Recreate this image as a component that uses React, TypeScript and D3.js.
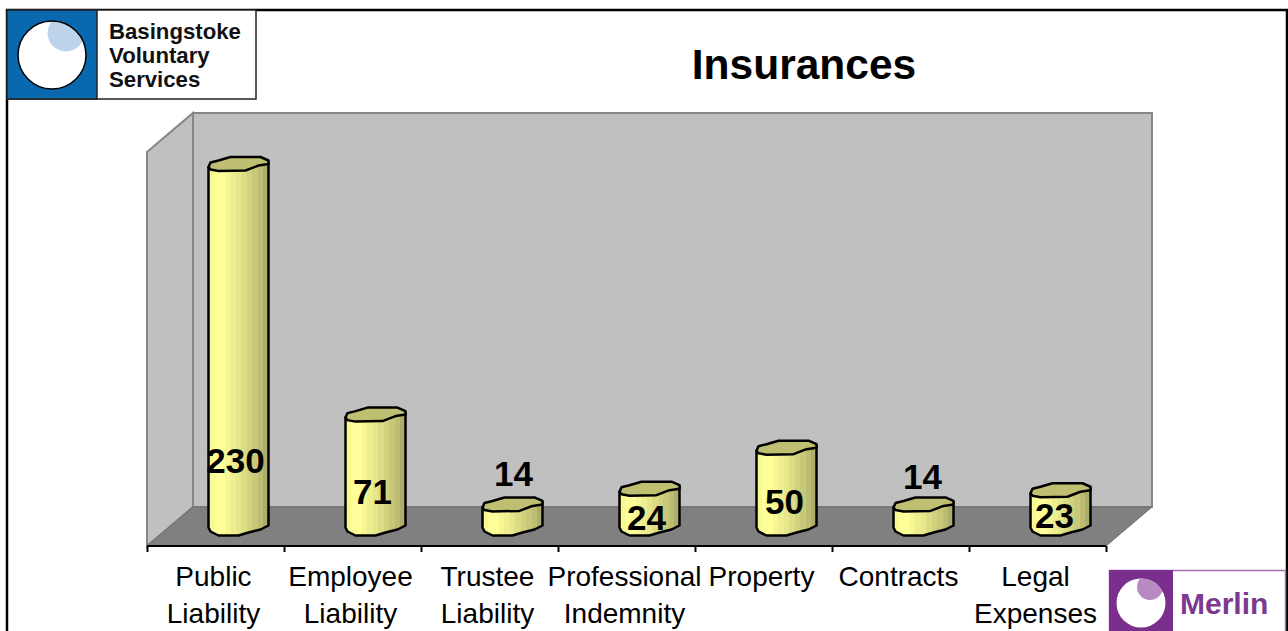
import { useEffect, useRef } from 'react'
import * as d3 from 'd3'

const categories = ['Public Liability', 'Employee Liability', 'Trustee Liability', 'Professional Indemnity', 'Property', 'Contracts', 'Legal Expenses']
const values = [230, 71, 14, 24, 50, 14, 23]
const valueLabels = ['230', '71', '14', '24', '50', '14', '23']
// label baselines, in axis units, as placed by the original chart
const labelLevels = [34, 14.5, 26, -2.5, 8, 23.5, -1]
const labelShifts = [-3, -3, 1, -3, -2, -1, -6]
const logoLines = ['Basingstoke', 'Voluntary', 'Services']

// outline of one column, relative to its centre (one cross-section, repeated)
const topOutline: [number, number][] = [[-30, 3], [-28, -1.5], [-20, -3.5], [-8, -7], [22, -7], [30, -3.5], [30, 0], [20, 1.5], [7, 6.5], [-20, 7], [-28, 5.5]]
const bottomOutline: [number, number][] = [[-30, 1], [-28, 5], [-20, 9], [0, 9], [10, 6], [22, 3], [30, -1]]
const stripColors = ['#f9f992', '#ffff99', '#ffff99', '#f6f694', '#eeee90', '#e6e68a', '#dcdc84', '#d2d27e', '#c8c878', '#bcbc72', '#aeae6a']

const FONT = '"Liberation Sans", Arial, sans-serif'
const width = 1288
const height = 631

function App() {
  const svgRef = useRef<SVGSVGElement>(null)

  useEffect(() => {
    const svg = d3.select(svgRef.current)
    svg.selectAll('*').remove()

    // Plot box
    const left = 147
    const right = 1106
    const base = 546
    const top = 152
    const depthX = 46
    const depthY = 39

    const x = d3.scaleBand<string>().domain(categories).range([left, right])
    const edges = d3.scaleLinear().domain([0, categories.length]).range([left, right])
    const y = d3.scaleLinear().domain([0, 250]).range([base - depthY / 2, top - depthY / 2])

    const defs = svg.append('defs')
    const grad = defs.append('linearGradient').attr('id', 'columnFill')
    stripColors.forEach((c, i) => {
      grad.append('stop').attr('offset', i / stripColors.length).attr('stop-color', c)
      grad.append('stop').attr('offset', (i + 1) / stripColors.length).attr('stop-color', c)
    })
    defs.append('clipPath').attr('id', 'bvsCircle').append('circle').attr('cx', 52).attr('cy', 55).attr('r', 34)
    defs.append('clipPath').attr('id', 'merlinCircle').append('circle').attr('cx', 1141).attr('cy', 603).attr('r', 24.5)

    // Frame
    svg.append('path')
      .attr('d', `M7,${height} V10 H${width - 1} V${height}`)
      .attr('fill', 'none')
      .attr('stroke', '#000')
      .attr('stroke-width', 2.5)

    // Walls and floor
    const polygon = d3.line()
    svg.append('path')
      .attr('d', polygon([[left, top], [left + depthX, top - depthY], [left + depthX, base - depthY], [left, base]]) + 'Z')
      .attr('fill', '#c0c0c0')
      .attr('stroke', '#868686')
      .attr('stroke-width', 2)
    svg.append('rect')
      .attr('x', left + depthX)
      .attr('y', top - depthY)
      .attr('width', right - left)
      .attr('height', base - top)
      .attr('fill', '#c0c0c0')
      .attr('stroke', '#868686')
      .attr('stroke-width', 2)
    svg.append('path')
      .attr('d', polygon([[left, base], [left + depthX, base - depthY], [right + depthX, base - depthY], [right, base]]) + 'Z')
      .attr('fill', '#808080')
      .attr('stroke', '#6e6e6e')
      .attr('stroke-width', 1)

    // Axis
    const axis = d3.axisBottom(edges).ticks(categories.length).tickSize(6).tickFormat(() => '')
    const axisG = svg.append('g').attr('transform', `translate(0,${base})`).call(axis)
    axisG.selectAll('line,path').attr('stroke', '#000').attr('stroke-width', 2)
    axisG.select('path').attr('d', `M${left},0H${right}`)

    // Category labels
    categories.forEach(cat => {
      const cx = x(cat)! + x.bandwidth() / 2 - 2
      cat.split(' ').forEach((word, i) => {
        svg.append('text')
          .attr('x', cx)
          .attr('y', 586 + i * 37)
          .attr('text-anchor', 'middle')
          .attr('font-family', FONT)
          .attr('font-size', 28)
          .attr('fill', '#000')
          .text(word)
      })
    })

    // Columns
    categories.forEach((cat, i) => {
      const cx = x(cat)! + x.bandwidth() / 2 + depthX / 2
      const yTop = y(values[i])
      const yBase = y(0)
      const topPts = topOutline.map(([dx, dy]) => [cx + dx, yTop + dy] as [number, number])
      const bottomPts = bottomOutline.map(([dx, dy]) => [cx + dx, yBase + dy] as [number, number])
      const w = topOutline[5][0]
      svg.append('path')
        .attr('d', polygon([[cx - w, yTop + 3], ...bottomPts, [cx + w, yTop - 2]]) + 'Z')
        .attr('fill', 'url(#columnFill)')
        .attr('stroke', '#000')
        .attr('stroke-width', 2.5)
        .attr('stroke-linejoin', 'round')
      svg.append('path')
        .attr('d', polygon(topPts) + 'Z')
        .attr('fill', '#bfbf72')
        .attr('stroke', '#000')
        .attr('stroke-width', 2.5)
        .attr('stroke-linejoin', 'round')
    })

    // Value labels, over the columns
    categories.forEach((cat, i) => {
      const cx = x(cat)! + x.bandwidth() / 2 + depthX / 2 + labelShifts[i]
      svg.append('text')
        .attr('x', cx)
        .attr('y', y(labelLevels[i]))
        .attr('text-anchor', 'middle')
        .attr('font-family', FONT)
        .attr('font-size', 35)
        .attr('font-weight', 'bold')
        .attr('fill', '#000')
        .text(valueLabels[i])
    })

    // Title
    svg.append('text')
      .attr('x', 804)
      .attr('y', 79)
      .attr('text-anchor', 'middle')
      .attr('font-family', FONT)
      .attr('font-size', 42.5)
      .attr('font-weight', 'bold')
      .attr('fill', '#000')
      .text('Insurances')

    // Basingstoke logo
    svg.append('rect').attr('x', 7).attr('y', 10).attr('width', 249).attr('height', 89)
      .attr('fill', '#fff').attr('stroke', '#222').attr('stroke-width', 1.5)
    svg.append('rect').attr('x', 7).attr('y', 10).attr('width', 90).attr('height', 89)
      .attr('fill', '#0a69ae').attr('stroke', '#222').attr('stroke-width', 1.5)
    svg.append('circle').attr('cx', 52).attr('cy', 55).attr('r', 34).attr('fill', '#fff')
    svg.append('circle').attr('cx', 66).attr('cy', 33).attr('r', 18.5).attr('fill', '#bcd3ea').attr('clip-path', 'url(#bvsCircle)')
    svg.append('circle').attr('cx', 52).attr('cy', 55).attr('r', 34).attr('fill', 'none').attr('stroke', '#000').attr('stroke-width', 1.5)
    logoLines.forEach((line, i) => {
      svg.append('text')
        .attr('x', 109)
        .attr('y', 39 + i * 24)
        .attr('font-family', FONT)
        .attr('font-size', 22.2)
        .attr('font-weight', 'bold')
        .attr('fill', '#111')
        .text(line)
    })

    // Merlin logo
    svg.append('rect').attr('x', 1109.5).attr('y', 570.5).attr('width', 176).attr('height', 62)
      .attr('fill', '#fff').attr('stroke', '#a36fb0').attr('stroke-width', 1.5)
    svg.append('rect').attr('x', 1109).attr('y', 570).attr('width', 64).attr('height', 61).attr('fill', '#7b2f8c')
    svg.append('circle').attr('cx', 1141).attr('cy', 603).attr('r', 24.5).attr('fill', '#fff')
    svg.append('circle').attr('cx', 1150).attr('cy', 587).attr('r', 13).attr('fill', '#b98ac2').attr('clip-path', 'url(#merlinCircle)')
    svg.append('text')
      .attr('x', 1180)
      .attr('y', 614)
      .attr('font-family', FONT)
      .attr('font-size', 30)
      .attr('font-weight', 'bold')
      .attr('fill', '#7b3a8f')
      .text('Merlin')
  }, [])

  return (
    <svg
      ref={svgRef}
      width={width}
      height={height}
      style={{ position: 'absolute', top: 0, left: 0, background: '#fff' }}
    />
  )
}

export default App
